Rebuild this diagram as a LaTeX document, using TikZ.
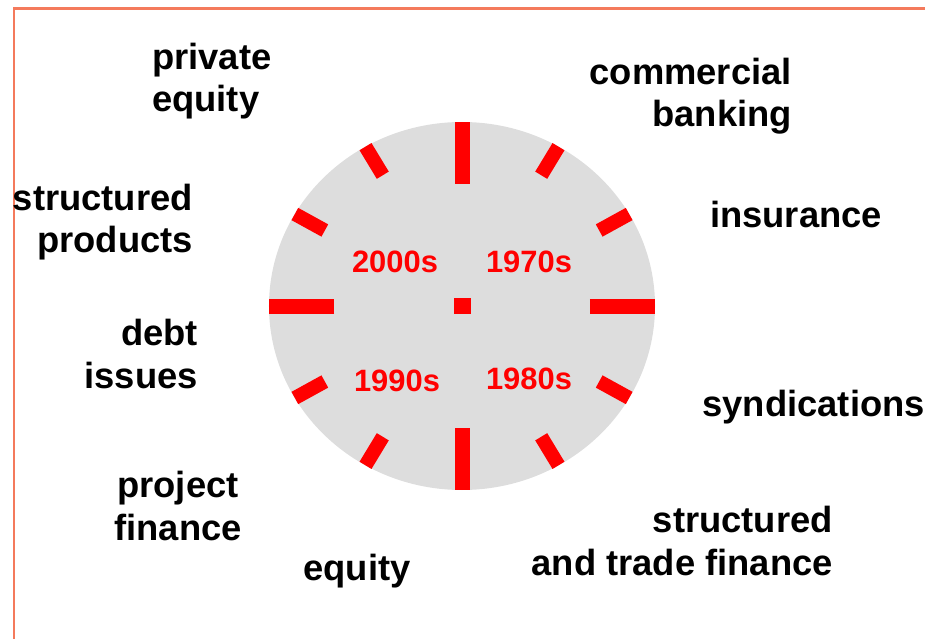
\documentclass[tikz,border=0pt]{standalone}
\usepackage{fontspec}
\setmainfont{Liberation Sans}
\usepackage{tikz}
\usepackage{xcolor}
\definecolor{dialcolor}{HTML}{DDDDDD}
\definecolor{framecolor}{HTML}{F47A5C}
\definecolor{decadecolor}{rgb}{1, 0, 0}
\tikzstyle{bizlabel} = [
    inner sep=0pt,
    text=black,
    font=\bfseries\fontsize{36.5}{42.5}\selectfont
    ]
\tikzstyle{decade} = [
    inner sep=0pt,
    text=decadecolor,
    font=\bfseries\fontsize{31}{36}\selectfont
    ]
\tikzstyle{bigtick} = [draw=decadecolor, line width=15bp]
\tikzstyle{smalltick} = [draw=decadecolor, line width=14bp]

\begin{document}
\begin{tikzpicture}[x=1bp, y=-1bp]
\useasboundingbox (0,0) rectangle (925,639);
\draw[framecolor, line width=2.5bp] (925,8.7) -| (14,639);

% dial with its ticks
\coordinate (dial) at (462,306);
\begin{scope}[shift={(dial)}, xscale=1.049]
\fill[dialcolor] (0,0) circle (184);
\foreach \a in {0,90,180,270}
    \draw[bigtick] (\a:122) -- (\a:184);
\foreach \a in {30,60,120,150,210,240,300,330}
    \draw[smalltick] (\a:151) -- (\a:184);
\end{scope}
\node[fill=decadecolor, inner sep=0pt, minimum width=17bp, minimum height=16bp] (hub) at (dial) {};

% decades
\node[decade] (d2000) at (395,261.5) {2000s};
\node[decade] (d1970) at (529,261.5) {1970s};
\node[decade] (d1990) at (397,381) {1990s};
\node[decade] (d1980) at (529,378.5) {1980s};

% business lines round the dial (base = last line)
\node[bizlabel, align=left, anchor=base west] (private) at (152,112) {private\\equity};
\node[bizlabel, align=right, anchor=base east] (commercial) at (792,127) {commercial\\banking};
\node[bizlabel, anchor=base] (insurance) at (796,228) {insurance};
\node[bizlabel, align=right, anchor=base east] (structprod) at (193,253) {structured\\products};
\node[bizlabel, align=right, anchor=base east] (debt) at (198,388) {debt\\issues};
\node[bizlabel, anchor=base east] (syndication) at (925,416) {syndications};
\node[bizlabel, align=center, anchor=base] (project) at (178,540) {project\\finance};
\node[bizlabel, anchor=base] (equity) at (357,580) {equity};
\node[bizlabel, align=right, anchor=base east] (trade) at (833,575) {structured\\and trade finance};
\end{tikzpicture}
\end{document}
